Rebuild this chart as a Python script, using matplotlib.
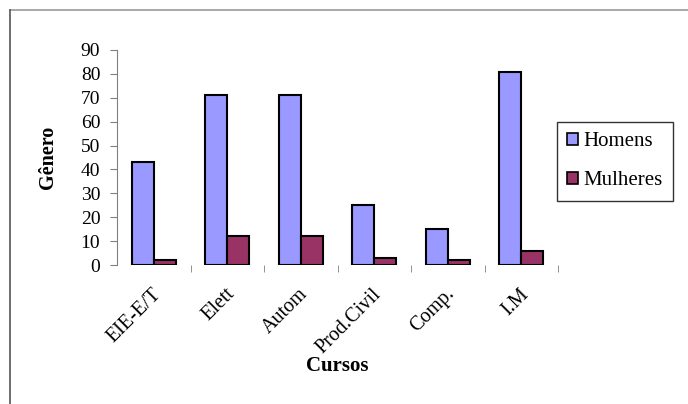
import matplotlib
matplotlib.use('Agg')
import matplotlib.pyplot as plt
from matplotlib.lines import Line2D
import numpy as np

cursos = ["EIE-E/T", "Elett", "Autom", "Prod.Civil", "Comp.", "I.M"]
homens = [43, 71, 71, 25, 15, 81]
mulheres = [2, 12, 12, 3, 2, 6]

plt.rcParams['font.family'] = ['Liberation Serif', 'DejaVu Serif']

W, H = 688, 404
fig = plt.figure(figsize=(W / 100, H / 100), dpi=100)
fig.patch.set_facecolor('white')

# outer chart frame (cut at right/bottom like the source)
fig.add_artist(Line2D([10 / W, 1], [1 - 10 / H, 1 - 10 / H], color='#999999', lw=1.2))
fig.add_artist(Line2D([10 / W, 10 / W], [0, 1 - 10 / H], color='#555555', lw=1.2))

ax = fig.add_axes([117 / W, 139 / H, 441 / W, 215 / H])

x = np.arange(len(cursos))
bw = 0.3
ax.bar(x + 0.2, homens, bw, align='edge', color='#9999FF', edgecolor='black', lw=1.5, label='Homens', zorder=3)
ax.bar(x + 0.5, mulheres, bw, align='edge', color='#993366', edgecolor='black', lw=1.5, label='Mulheres', zorder=3)

ax.set_xlim(0, len(cursos))
ax.set_ylim(0, 90)
ax.set_yticks(range(0, 91, 10))

ax.set_xticks(x + 0.56)
ax.set_xticklabels(cursos, rotation=45, ha='right', va='center', rotation_mode='anchor', fontsize=14.5)
ax.set_xticks(np.arange(1, len(cursos) + 1), minor=True)
ax.tick_params(axis='x', which='major', length=0, pad=19)
ax.tick_params(axis='x', which='minor', length=5, color='#808080', direction='out')
ax.tick_params(axis='y', length=5, color='#808080', labelsize=14, pad=7)

for sp in ['top', 'right', 'bottom']:
    ax.spines[sp].set_visible(False)
ax.spines['left'].set_color('#808080')

ax.set_ylabel('Gênero', fontsize=14.5, fontweight='bold', labelpad=16)
ax.set_xlabel('Cursos', fontsize=15, fontweight='bold', labelpad=-1)

leg = fig.legend(loc='upper left', bbox_to_anchor=(557 / W, 1 - 122 / H), fontsize=15,
                 frameon=True, fancybox=False, edgecolor='black', handlelength=0.5,
                 handleheight=0.5, handletextpad=0.25, labelspacing=0.95, borderpad=0.5,
                 borderaxespad=0)
leg.get_frame().set_linewidth(1.0)
for h in leg.legend_handles:
    h.set_linewidth(1.2)

fig.savefig('out.png', dpi=100)
